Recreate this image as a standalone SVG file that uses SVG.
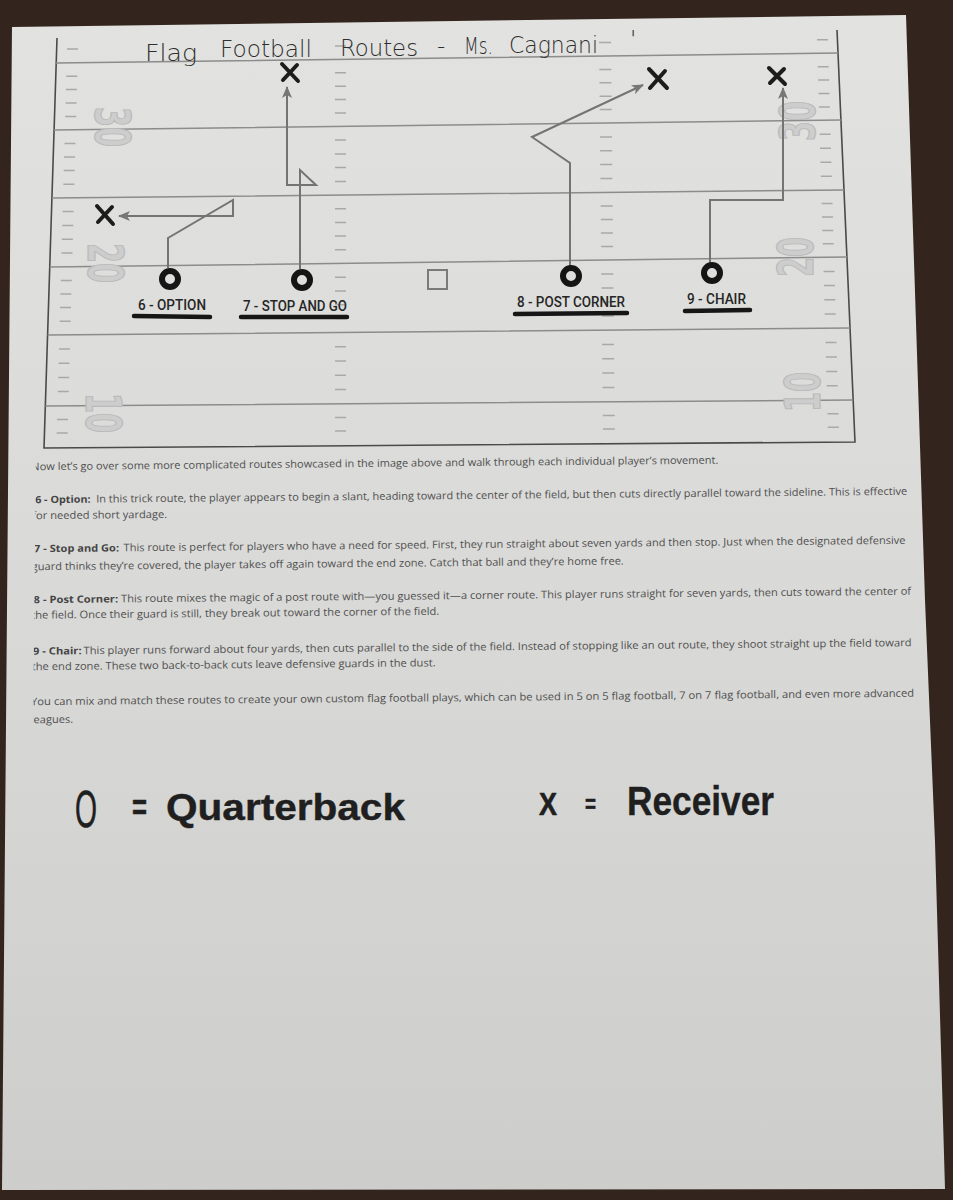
<svg xmlns="http://www.w3.org/2000/svg" width="953" height="1200" viewBox="0 0 953 1200">
<defs>
<linearGradient id="paper" x1="0" y1="0" x2="0" y2="1">
<stop offset="0" stop-color="#e2e2e0"/>
<stop offset="0.5" stop-color="#d9d9d7"/>
<stop offset="1" stop-color="#cdcdcb"/>
</linearGradient>
<marker id="ah" viewBox="0 0 12 10" refX="11" refY="5" markerWidth="12" markerHeight="10" markerUnits="userSpaceOnUse" orient="auto">
<path d="M0,0 L12,5 L0,10 L3,5 Z" fill="#777"/>
</marker>
<clipPath id="cut"><polygon points="36,440 953,440 953,740 33,740"/></clipPath>
<style>
.yl{stroke:#8c8c8c;stroke-width:1.5;fill:none}
.bd{stroke:#4a4a4a;stroke-width:1.6;fill:none}
.hs{stroke:#a9a9a9;stroke-width:1.5;fill:none}
.yn{font-family:"DejaVu Sans Condensed","Liberation Sans",sans-serif;font-weight:bold;font-size:50px;fill:#cdcdcd;stroke:#bababa;stroke-width:1.2}
.rt{stroke:#747474;stroke-width:2;fill:none;stroke-linejoin:miter}
.x{stroke:#1c1c1c;stroke-width:4;stroke-linecap:round;fill:none}
.qb{stroke:#151515;stroke-width:6;fill:none}
.lb{font-family:Roboto,"Liberation Sans",sans-serif;font-weight:500;font-size:14px;fill:#262626}
.ul{stroke:#161616;stroke-width:4.5;stroke-linecap:round;fill:none}
.tt{font-family:"DejaVu Sans","Liberation Sans",sans-serif;font-weight:200;font-size:23px;fill:#2e2e2e}
.p{font-family:"Open Sans","Liberation Sans",sans-serif;font-size:10.5px;fill:#505050}
.b{font-weight:bold;fill:#444;font-size:10px}
.lg{font-family:"Liberation Sans",sans-serif;fill:#1f1f1f;stroke:#1f1f1f;stroke-linejoin:round}
</style>
</defs>
<rect width="953" height="1200" fill="#33251d"/>
<polygon points="12,27 906,15 925,600 935,842 945,1189 2,1190" fill="url(#paper)"/>

<g id="field">
<path class="bd" d="M57,38 L44,448 L855,442 L837,30"/>
<path class="yl" d="M56,63 L838,53 M54,130 L841,120 M52,198 L844,190 M49.7,267 L847,257 M47.6,335 L850,328 M45.3,406 L853,400"/>
<path class="hs" d="M67,49h11 M66.3,76.2h11 M65.9,89.6h11 M65.6,103h11 M65.2,116.4h11 M64.5,143.4h11 M64.1,157h11 M63.7,170.6h11 M63.4,184.2h11 M62.6,211.6h11 M62.3,225.4h11 M61.9,239.2h11 M61.5,253h11 M60.8,280.4h11 M60.4,294h11 M60,307.6h11 M59.7,321.2h11 M58.9,349h11 M58.5,363.2h11 M58.2,377.4h11 M57.8,391.6h11 M57,419.5h11 M56.7,433h11"/>
<path class="hs" d="M335,46h11 M335,72.8h11 M335,86.2h11 M335,99.6h11 M335,113h11 M335,140.1h11 M335,153.9h11 M335,167.6h11 M335,181.4h11 M335,208.8h11 M335,222.4h11 M335,236.1h11 M335,249.7h11 M335,277.2h11 M335,291h11 M335,304.8h11 M335,318.6h11 M335,346.7h11 M335,361h11 M335,375.2h11 M335,389.5h11 M335,417.4h11 M335,431h11"/>
<path class="hs" d="M599,42.5h12 M599.3,69.4h12 M599.4,82.8h12 M599.6,96.2h12 M599.7,109.6h12 M600,136.9h12 M600.1,150.8h12 M600.2,164.6h12 M600.4,178.5h12 M600.7,205.9h12 M600.8,219.4h12 M600.9,233h12 M601.1,246.5h12 M601.3,274h12 M601.5,288h12 M601.6,302h12 M601.8,316h12 M602,344.4h12 M602.2,358.8h12 M602.3,373.1h12 M602.5,387.5h12 M602.8,415.4h12 M602.9,429h12"/>
<path class="hs" d="M817,39.8h11 M817.7,66.7h11 M818.1,80h11 M818.5,93.5h11 M818.9,106.9h11 M819.6,134.2h11 M820,148.2h11 M820.4,162.2h11 M820.8,176.2h11 M821.6,203.6h11 M822,217h11 M822.3,230.4h11 M822.7,243.8h11 M823.5,271.4h11 M823.9,285.6h11 M824.3,299.8h11 M824.7,314h11 M825.5,342.6h11 M825.9,357h11 M826.3,371.4h11 M826.7,385.7h11 M827.5,413.7h11 M827.8,427.3h11"/>
<text class="yn" transform="translate(113,127) rotate(90)" text-anchor="middle" dy="0.36em" textLength="40" lengthAdjust="spacingAndGlyphs">30</text>
<text class="yn" transform="translate(106,263) rotate(90)" text-anchor="middle" dy="0.36em" textLength="40" lengthAdjust="spacingAndGlyphs">20</text>
<text class="yn" transform="translate(104,413) rotate(90)" text-anchor="middle" dy="0.36em" textLength="40" lengthAdjust="spacingAndGlyphs">10</text>
<text class="yn" transform="translate(797,121) rotate(-90)" text-anchor="middle" dy="0.36em" textLength="40" lengthAdjust="spacingAndGlyphs">30</text>
<text class="yn" transform="translate(795,257) rotate(-90)" text-anchor="middle" dy="0.36em" textLength="40" lengthAdjust="spacingAndGlyphs">20</text>
<text class="yn" transform="translate(802,392) rotate(-90)" text-anchor="middle" dy="0.36em" textLength="40" lengthAdjust="spacingAndGlyphs">10</text>
</g>

<g id="title">
<text class="tt" x="145" y="61" textLength="52" lengthAdjust="spacingAndGlyphs">Flag</text>
<text class="tt" x="220" y="57" textLength="92" lengthAdjust="spacingAndGlyphs">Football</text>
<text class="tt" x="340" y="56" textLength="78" lengthAdjust="spacingAndGlyphs">Routes</text>
<text class="tt" x="437" y="54">-</text>
<text class="tt" x="464" y="54" textLength="29" lengthAdjust="spacingAndGlyphs">Ms.</text>
<text class="tt" x="509" y="53" textLength="89" lengthAdjust="spacingAndGlyphs">Cagnani</text>
<text class="tt" x="630" y="47">'</text>
</g>

<g id="connectors">
<path class="rt" d="M168,268 V238 L233,200 V216 H119" marker-end="url(#ah)"/>
<path class="rt" d="M300,269 V170 L316,185 H287 V87" marker-end="url(#ah)"/>
<path class="rt" d="M570,266 V163 L532,137 L643,85" marker-end="url(#ah)"/>
<path class="rt" d="M710,263 V200 H783 V88" marker-end="url(#ah)"/>
</g>

<g id="route6">
<circle class="qb" cx="170" cy="279" r="8"/>
<path class="x" d="M97,206 L113,224 M112,207 L98,222"/>
<text class="lb" x="138" y="310" textLength="68" lengthAdjust="spacingAndGlyphs">6 - OPTION</text>
<path class="ul" d="M134,316 L210,317"/>
</g>
<g id="route7">
<circle class="qb" cx="302" cy="280" r="8"/>
<path class="x" d="M282,64 L298,81 M297,65 L283,80"/>
<text class="lb" x="243" y="311" textLength="104" lengthAdjust="spacingAndGlyphs">7 - STOP AND GO</text>
<path class="ul" d="M241,317 L347,317"/>
</g>
<g id="square">
<rect x="428" y="270" width="19" height="19" fill="none" stroke="#7a7a7a" stroke-width="2"/>
</g>
<g id="route8">
<circle class="qb" cx="571" cy="276" r="8"/>
<path class="x" d="M649,69 L667,88 M665,71 L650,88"/>
<text class="lb" x="517" y="307" textLength="108" lengthAdjust="spacingAndGlyphs">8 - POST CORNER</text>
<path class="ul" d="M515,314 L627,313"/>
</g>
<g id="route9">
<circle class="qb" cx="712" cy="273" r="8"/>
<path class="x" d="M769,68 L785,84 M784,69 L770,83"/>
<text class="lb" x="687" y="304" textLength="59" lengthAdjust="spacingAndGlyphs">9 - CHAIR</text>
<path class="ul" d="M685,311 L750,310"/>
</g>

<g id="body" clip-path="url(#cut)">
<g transform="rotate(-0.55 470 590)">
<text class="p" x="32.5" y="466" textLength="687" lengthAdjust="spacingAndGlyphs">Now let’s go over some more complicated routes showcased in the image above and walk through each individual player’s movement.</text>
<text class="p" y="499"><tspan class="b" x="36" textLength="55.5" lengthAdjust="spacingAndGlyphs">6 - Option:</tspan><tspan x="97" textLength="811" lengthAdjust="spacingAndGlyphs">In this trick route, the player appears to begin a slant, heading toward the center of the field, but then cuts directly parallel toward the sideline. This is effective</tspan></text>
<text class="p" x="33" y="515" textLength="135" lengthAdjust="spacingAndGlyphs">for needed short yardage.</text>
<text class="p" y="548"><tspan class="b" x="34.5" textLength="85" lengthAdjust="spacingAndGlyphs">7 - Stop and Go:</tspan><tspan x="124" textLength="782" lengthAdjust="spacingAndGlyphs">This route is perfect for players who have a need for speed. First, they run straight about seven yards and then stop. Just when the designated defensive</tspan></text>
<text class="p" x="32" y="566" textLength="592" lengthAdjust="spacingAndGlyphs">guard thinks they’re covered, the player takes off again toward the end zone. Catch that ball and they’re home free.</text>
<text class="p" y="599"><tspan class="b" x="33.5" textLength="84.5" lengthAdjust="spacingAndGlyphs">8 - Post Corner:</tspan><tspan x="121" textLength="790" lengthAdjust="spacingAndGlyphs">This route mixes the magic of a post route with—you guessed it—a corner route. This player runs straight for seven yards, then cuts toward the center of</tspan></text>
<text class="p" x="31" y="614.5" textLength="408" lengthAdjust="spacingAndGlyphs">the field. Once their guard is still, they break out toward the corner of the field.</text>
<text class="p" y="650.5"><tspan class="b" x="32.5" textLength="48.5" lengthAdjust="spacingAndGlyphs">9 - Chair:</tspan><tspan x="83" textLength="828" lengthAdjust="spacingAndGlyphs">This player runs forward about four yards, then cuts parallel to the side of the field. Instead of stopping like an out route, they shoot straight up the field toward</tspan></text>
<text class="p" x="31" y="666" textLength="404" lengthAdjust="spacingAndGlyphs">the end zone. These two back-to-back cuts leave defensive guards in the dust.</text>
<text class="p" x="30" y="701" textLength="883" lengthAdjust="spacingAndGlyphs">You can mix and match these routes to create your own custom flag football plays, which can be used in 5 on 5 flag football, 7 on 7 flag football, and even more advanced</text>
<text class="p" x="29.5" y="719" textLength="42.5" lengthAdjust="spacingAndGlyphs">leagues.</text>
</g>
</g>

<g id="legend">
<text class="lg" x="75" y="827" style="font-size:52px;stroke-width:0.6" textLength="22" lengthAdjust="spacingAndGlyphs">O</text>
<text class="lg" x="132" y="820" style="font-size:37px;font-weight:bold;stroke-width:0.5" textLength="15" lengthAdjust="spacingAndGlyphs">=</text>
<text class="lg" x="166" y="820" style="font-size:37px;font-weight:bold;stroke-width:0.4" textLength="239" lengthAdjust="spacingAndGlyphs">Quarterback</text>
<text class="lg" x="539" y="815" style="font-size:31px;font-weight:bold;stroke-width:0.6" textLength="18" lengthAdjust="spacingAndGlyphs">X</text>
<text class="lg" x="585" y="813" style="font-size:26px;font-weight:bold;stroke-width:0.5" textLength="11" lengthAdjust="spacingAndGlyphs">=</text>
<text class="lg" x="627" y="815" style="font-size:41px;font-weight:bold;stroke-width:0.4" textLength="147" lengthAdjust="spacingAndGlyphs">Receiver</text>
</g>
</svg>
